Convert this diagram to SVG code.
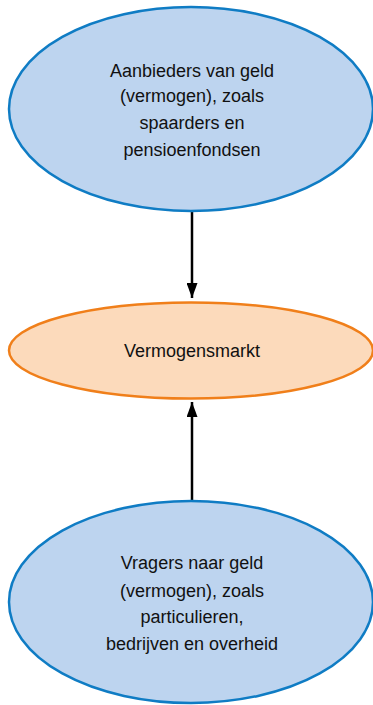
<svg xmlns="http://www.w3.org/2000/svg" width="373" height="705" viewBox="0 0 373 705">
<style>
.blue{fill:#bdd4ef;stroke:#0f7cc4;stroke-width:2.5}
.orange{fill:#fcdabb;stroke:#f07f1a;stroke-width:2.5}
text{font-family:"Liberation Sans",Arial,sans-serif;font-size:18px;fill:#111;text-anchor:middle}
.conn{stroke:#000;stroke-width:2.5;fill:none}
</style>
<defs>
<marker id="ah" markerWidth="15" markerHeight="11" refX="15" refY="5.5" orient="auto" markerUnits="userSpaceOnUse" viewBox="0 0 15 11">
<path d="M0,0 L15,5.5 L0,11 z" fill="#000"/>
</marker>
</defs>
<rect width="373" height="705" fill="#fff"/>
<g id="connectors">
<line class="conn" x1="192" y1="212" x2="192" y2="298" marker-end="url(#ah)"/>
<line class="conn" x1="192" y1="501" x2="192" y2="402" marker-end="url(#ah)"/>
</g>
<g id="aanbieders">
<ellipse class="blue" cx="191" cy="109" rx="182" ry="102"/>
<text x="192" y="77">Aanbieders van geld</text>
<text x="192" y="102">(vermogen), zoals</text>
<text x="192" y="129">spaarders en</text>
<text x="192" y="156">pensioenfondsen</text>
</g>
<g id="vermogensmarkt">
<ellipse class="orange" cx="191" cy="350.5" rx="182" ry="48"/>
<text x="192" y="357">Vermogensmarkt</text>
</g>
<g id="vragers">
<ellipse class="blue" cx="191" cy="602" rx="182" ry="101"/>
<text x="192" y="569">Vragers naar geld</text>
<text x="192" y="597">(vermogen), zoals</text>
<text x="192" y="623">particulieren,</text>
<text x="192" y="650">bedrijven en overheid</text>
</g>
</svg>
